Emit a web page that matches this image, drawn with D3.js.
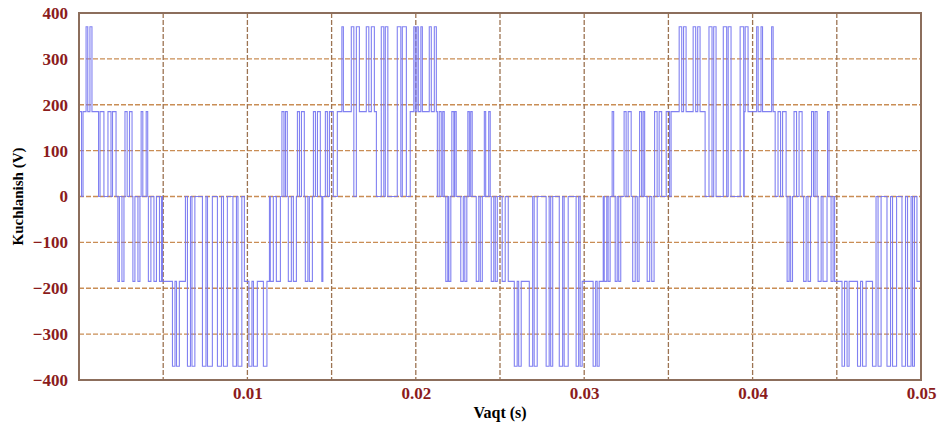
<!DOCTYPE html>
<html>
<head>
<meta charset="utf-8">
<script src="https://cdn.jsdelivr.net/npm/d3@7"></script>
<style>
  body { margin: 0; background: #fff; }
  svg { display: block; }
</style>
</head>
<body>
<div id="chart"></div>
<script>
// pulse edges, times in ms: [start, end]
var levels = [185, 370];

var pos185 = [
  [0, 0.15], [0.24, 1.16], [1.25, 1.48], [1.72, 1.90], [1.99, 2.20], [2.73, 2.86], [3.00, 3.15], [3.69, 3.79], [3.99, 4.08],
  [12.05, 12.17], [12.26, 12.37], [12.97, 13.09], [13.21, 13.38], [13.92, 14.04], [14.16, 14.33],
  [14.63, 14.75], [14.87, 15.10], [15.34, 16.29], [16.59, 17.66], [19.67, 21.28],
  [21.39, 21.51], [21.60, 21.69], [22.14, 22.26], [22.31, 22.40], [23.09, 23.18], [23.26, 23.35], [24.07, 24.15], [24.33, 24.42],
  [31.66, 31.75], [32.37, 32.49], [32.61, 32.79], [33.29, 33.41], [33.50, 33.59], [34.18, 34.33], [34.45, 34.60],
  [34.87, 35.07], [35.16, 37.18], [39.50, 41.34],
  [41.51, 41.66], [41.78, 41.99], [42.46, 42.61], [42.76, 42.94], [43.50, 43.62], [43.71, 43.83], [44.45, 44.54]
];

var pos370 = [
  [0.42, 0.52], [0.65, 0.77],
  [15.61, 15.70], [16.17, 16.32], [16.47, 16.65], [17.06, 17.21], [17.36, 17.54], [17.95, 18.10], [18.19, 18.34],
  [18.90, 19.11], [19.20, 19.44], [19.88, 19.97], [20.06, 20.15], [20.30, 20.39], [20.80, 20.92], [21.10, 21.22],
  [35.64, 35.79], [35.90, 36.05], [36.47, 36.62], [36.74, 36.88], [37.41, 37.59], [37.69, 37.83], [38.26, 38.46],
  [38.55, 38.72], [39.26, 39.47], [39.56, 39.73], [40.24, 40.33], [40.50, 40.59], [41.13, 41.22]
];

var neg185 = [
  [2.31, 2.40], [2.55, 2.67], [3.20, 3.32], [3.50, 3.62], [4.12, 4.27], [4.45, 4.60], [4.78, 4.90],
  [4.96, 6.32], [9.82, 11.31],
  [11.36, 11.54], [11.72, 11.96], [12.43, 12.61], [12.73, 12.91], [13.44, 13.59], [13.68, 13.86], [14.42, 14.48],
  [21.78, 21.90], [21.96, 22.08], [22.67, 22.82], [22.91, 23.03], [23.59, 23.74], [23.83, 23.95], [24.48, 24.63],
  [24.72, 24.84], [25.13, 25.31], [25.49, 25.67],
  [25.67, 26.80], [29.82, 31.13],
  [31.19, 31.34], [31.42, 31.54], [31.84, 31.96], [32.05, 32.17], [32.88, 33.03], [33.15, 33.26], [33.74, 33.89], [34.01, 34.15],
  [42.05, 42.17], [42.26, 42.37], [43.03, 43.18], [43.29, 43.44], [43.89, 44.07], [44.18, 44.42], [44.66, 44.78], [44.87, 44.99],
  [44.99, 47.21], [49.76, 50]
];

var neg370 = [
  [5.55, 5.70], [5.79, 5.96], [6.44, 6.62], [6.71, 6.88], [7.33, 7.54], [7.63, 7.92], [8.22, 8.46],
  [8.58, 8.81], [9.14, 9.35], [9.44, 9.67], [10.09, 10.27], [10.36, 10.59], [10.95, 11.16],
  [25.85, 26.02], [26.11, 26.26], [26.74, 26.94], [27.03, 27.21], [27.74, 27.92], [28.01, 28.13],
  [28.52, 28.72], [28.81, 29.05], [29.52, 29.67], [29.76, 29.88], [30.53, 30.68], [30.77, 30.89],
  [45.31, 45.46], [45.61, 45.73], [46.23, 46.41], [46.53, 46.74], [47.12, 47.33], [47.45, 47.63],
  [47.98, 48.19], [48.31, 48.55], [48.87, 49.08], [49.20, 49.41], [49.50, 49.61]
];

var xTicks = [0.01, 0.02, 0.03, 0.04, 0.05];
var xGrid = [0.005, 0.01, 0.015, 0.02, 0.025, 0.03, 0.035, 0.04, 0.045];
var yTicks = [-400, -300, -200, -100, 0, 100, 200, 300, 400];

// build the step series: at each moment the widest level that covers it
var pulses = [];
pos185.forEach(function(p) { pulses.push({a: p[0], b: p[1], v: levels[0]}); });
pos370.forEach(function(p) { pulses.push({a: p[0], b: p[1], v: levels[1]}); });
neg185.forEach(function(p) { pulses.push({a: p[0], b: p[1], v: -levels[0]}); });
neg370.forEach(function(p) { pulses.push({a: p[0], b: p[1], v: -levels[1]}); });

var edges = [0, 50];
pulses.forEach(function(p) { edges.push(p.a, p.b); });
edges = Array.from(new Set(edges)).sort(function(a, b) { return a - b; });

var series = [];
for (var i = 0; i < edges.length - 1; i++) {
  var mid = (edges[i] + edges[i + 1]) / 2;
  var v = 0;
  pulses.forEach(function(p) {
    if (mid >= p.a && mid < p.b && Math.abs(p.v) > Math.abs(v)) v = p.v;
  });
  if (series.length && series[series.length - 1].v === v) continue;
  series.push({t: edges[i] / 1000, v: v});
}
series.push({t: 0.05, v: series[series.length - 1].v});

var margin = {top: 13, right: 17, bottom: 45, left: 79},
    width = 938 - margin.left - margin.right,
    height = 425 - margin.top - margin.bottom;

var svg = d3.select("#chart")
  .append("svg")
  .attr("width", 938)
  .attr("height", 425)
  .append("g")
  .attr("transform", "translate(" + margin.left + "," + margin.top + ")");

var xscl = d3.scaleLinear().domain([0, 0.05]).range([0, width]);
var yscl = d3.scaleLinear().domain([-400, 400]).range([height, 0]);

// grid
svg.selectAll(".hgrid")
  .data(yTicks.slice(1, -1))
  .enter().append("line")
  .attr("x1", 0).attr("x2", width)
  .attr("y1", function(d) { return yscl(d); })
  .attr("y2", function(d) { return yscl(d); })
  .attr("stroke", "#c98d55")
  .attr("stroke-width", 1.3)
  .attr("stroke-dasharray", "5,2");

svg.selectAll(".vgrid")
  .data(xGrid)
  .enter().append("line")
  .attr("y1", 0).attr("y2", height)
  .attr("x1", function(d) { return xscl(d); })
  .attr("x2", function(d) { return xscl(d); })
  .attr("stroke", "#9c7352")
  .attr("stroke-width", 1.3)
  .attr("stroke-dasharray", "5,2");

// signal
var myline = d3.line()
  .x(function(d) { return xscl(d.t); })
  .y(function(d) { return yscl(d.v); })
  .curve(d3.curveStepAfter);

svg.append("path")
  .attr("d", myline(series))
  .style("fill", "none")
  .style("stroke", "#7373f0")
  .style("stroke-opacity", 0.9)
  .style("stroke-width", 1.1);

// frame
svg.append("rect")
  .attr("width", width).attr("height", height)
  .attr("fill", "none")
  .attr("stroke", "#8c6e5c")
  .attr("stroke-width", 2);

// axes (labels only)
var yAxis = svg.append("g")
  .call(d3.axisLeft(yscl).tickValues(yTicks).tickSize(0).tickPadding(11));
var xAxis = svg.append("g")
  .attr("transform", "translate(0," + height + ")")
  .call(d3.axisBottom(xscl).tickValues(xTicks).tickFormat(d3.format(".2f")).tickSize(0).tickPadding(7));

[yAxis, xAxis].forEach(function(ax) {
  ax.select(".domain").remove();
  ax.selectAll("text")
    .attr("fill", "#8b1c1c")
    .style("font-family", "'Liberation Serif', 'DejaVu Serif', serif")
    .style("font-weight", "bold")
    .style("font-size", "17px");
});

svg.append("text")
  .attr("x", xscl(0.025))
  .attr("y", height + 38)
  .attr("text-anchor", "middle")
  .style("font-family", "'Liberation Serif', serif")
  .style("font-weight", "bold")
  .style("font-size", "16px")
  .text("Vaqt (s)");

svg.append("text")
  .attr("transform", "translate(" + (-56) + "," + yscl(0) + ") rotate(-90)")
  .attr("text-anchor", "middle")
  .style("font-family", "'Liberation Serif', serif")
  .style("font-weight", "bold")
  .style("font-size", "15px")
  .text("Kuchlanish (V)");
</script>
</body>
</html>
